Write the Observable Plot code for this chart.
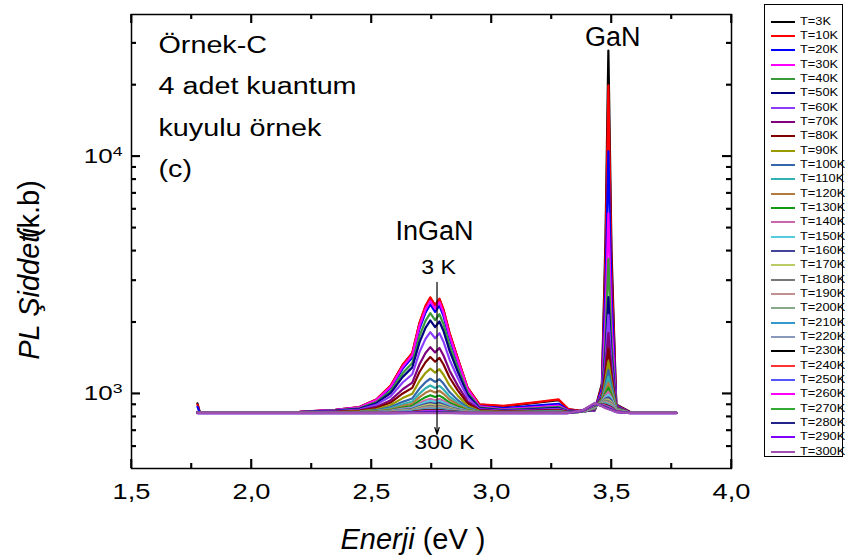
<!DOCTYPE html>
<html><head><meta charset="utf-8">
<script src="https://cdn.jsdelivr.net/npm/d3@7"></script>
<script src="https://cdn.jsdelivr.net/npm/@observablehq/plot@0.6"></script>
<style>
html,body{margin:0;padding:0;background:#fff;}
#wrap{position:relative;width:845px;height:559px;font-family:"Liberation Sans",Arial,sans-serif;}
#wrap svg{position:absolute;left:0;top:0;}
#legend{position:absolute;left:764px;top:4px;width:79px;height:453px;border:1px solid #000;box-sizing:border-box;background:#fff;}
.sw{position:absolute;left:6px;width:24px;height:0;}
.lt{position:absolute;left:35px;font-size:10px;line-height:10px;transform:scaleX(1.28);transform-origin:left center;white-space:nowrap;color:#000;}
</style></head><body><div id="wrap"><div id="legend"></div></div><script>
const temps = [3,10,20,30,40,50,60,70,80,90,100,110,120,130,140,150,160,170,180,190,200,210,220,230,240,250,260,270,280,290,300];
const energy = [1.775,1.785,2.0,2.2,2.35,2.45,2.52,2.58,2.63,2.67,2.70,2.725,2.745,2.765,2.783,2.80,2.825,2.86,2.90,2.95,3.05,3.18,3.28,3.32,3.38,3.43,3.46,3.475,3.487,3.50,3.52,3.58,3.77];
const intensity = [
[910,832,830,838,855,878,945,1080,1320,1480,1980,2330,2530,2350,2500,2250,1800,1400,1060,900,885,915,940,860,845,850,1100,4500,27900,4000,900,835,830],
[900,832,830,838,855,878,946,1082,1325,1486,1992,2345,2547,2365,2517,2264,1810,1406,1062,902,888,919,946,862,845,850,1080,3800,19900,3400,895,835,830],
[880,832,830,837,853,874,935,1058,1276,1422,1877,2195,2377,2213,2350,2122,1713,1349,1039,887,869,890,907,851,843,850,1050,2800,10500,2600,890,834,830],
[840,831,830,838,854,876,940,1070,1299,1453,1932,2267,2459,2286,2430,2190,1759,1376,1050,885,860,877,891,847,842,852,1020,2100,5750,2000,885,834,830],
[838,831,830,836,850,868,922,1029,1221,1348,1747,2026,2185,2041,2161,1962,1603,1284,1013,875,855,868,880,844,842,855,1000,1700,3700,1650,880,833,830],
[836,831,830,836,848,864,912,1007,1177,1291,1645,1894,2035,1908,2014,1837,1518,1234,993,869,850,861,871,841,841,858,990,1500,2550,1450,878,833,830],
[835,831,830,835,845,858,897,975,1115,1208,1498,1702,1818,1713,1800,1655,1394,1161,964,862,847,856,863,839,840,860,980,1400,2150,1350,875,832,830],
[834,831,830,833,841,851,880,939,1044,1113,1331,1484,1571,1493,1558,1449,1253,1079,930,855,843,850,856,837,840,862,970,1300,1800,1250,872,832,830],
[834,831,830,833,839,847,870,918,1002,1058,1234,1357,1427,1364,1416,1328,1170,1030,911,850,840,846,851,836,840,864,960,1220,1550,1180,870,832,830],
[833,831,830,832,837,843,860,896,958,1000,1131,1223,1275,1228,1268,1202,1084,979,890,845,838,843,847,835,840,866,950,1150,1370,1120,868,831,830],
[833,831,830,832,835,839,852,878,924,955,1051,1118,1156,1122,1151,1103,1016,939,874,841,837,840,843,834,840,868,945,1100,1260,1080,866,831,830],
[832,830,830,831,834,837,847,867,903,927,1001,1054,1083,1056,1079,1042,975,915,864,839,835,838,840,833,840,870,940,1060,1180,1040,864,831,830],
[832,830,830,831,833,836,844,860,888,907,967,1009,1032,1011,1029,999,945,898,857,837,834,836,838,832,840,872,935,1030,1110,1010,862,831,830],
[832,830,830,831,832,834,840,853,875,889,935,967,985,968,982,959,918,882,851,835,833,834,836,832,840,874,930,1005,1060,985,860,830,830],
[831,830,830,831,832,833,838,848,865,877,913,938,952,939,950,932,900,871,847,834,832,833,834,831,840,876,925,985,1020,965,858,830,830],
[831,830,830,830,832,833,837,845,860,870,900,922,934,923,932,917,889,865,844,833,832,833,833,831,840,878,920,968,990,950,856,830,830],
[831,830,830,830,831,832,836,843,855,863,888,905,915,906,914,901,879,859,842,832,831,832,832,831,840,880,915,955,965,935,854,830,830],
[831,830,830,830,831,832,835,841,851,857,878,893,901,894,900,890,871,854,840,832,831,831,831,830,840,882,912,945,945,922,852,830,830],
[830,830,830,830,831,831,834,839,847,853,870,883,890,883,888,880,864,850,838,831,830,831,831,830,840,884,910,935,930,912,850,830,830],
[830,830,830,830,830,831,833,837,844,849,863,874,879,874,878,871,858,847,837,831,830,830,830,830,841,886,908,925,918,902,848,830,830],
[830,830,830,830,830,831,833,836,842,846,858,866,871,866,870,864,853,844,836,831,830,830,830,830,842,888,906,918,908,895,846,830,830],
[830,830,830,830,830,830,832,835,840,844,854,862,866,862,865,860,850,842,835,830,830,830,830,830,843,890,904,910,900,888,845,830,830],
[830,830,830,830,830,830,832,834,838,841,850,856,859,856,858,854,846,840,834,830,830,830,830,830,844,892,902,904,893,882,844,830,830],
[830,830,830,830,830,830,831,833,837,839,846,850,853,851,853,849,843,838,833,830,830,830,830,830,845,894,900,898,887,877,843,830,830],
[830,830,830,830,830,830,831,832,835,837,842,846,848,846,848,845,840,836,832,830,830,830,830,830,846,896,898,893,882,872,842,830,830],
[830,830,830,830,830,830,830,831,834,835,839,842,844,842,844,842,838,835,831,830,830,830,830,830,847,898,896,888,878,868,841,830,830],
[830,830,830,830,830,830,830,831,833,834,837,840,841,840,841,839,836,834,831,830,830,830,830,830,848,900,894,884,874,864,840,830,830],
[830,830,830,830,830,830,830,830,831,832,835,836,837,836,837,836,834,832,830,830,830,830,830,830,849,903,892,880,870,860,839,830,830],
[829,829,829,829,829,829,829,829,830,831,833,834,834,834,834,833,832,830,829,829,829,829,829,829,850,906,890,876,867,857,838,829,829],
[829,829,829,829,829,829,829,829,829,830,832,832,832,832,832,831,830,829,829,829,829,829,829,829,851,910,888,872,864,854,837,829,829],
[829,829,829,829,829,829,829,829,829,829,829,829,829,829,829,829,829,829,829,829,829,829,829,829,852,915,886,868,860,851,836,829,829]
];
const colors = ["#000000","#ff0000","#0000ff","#ff00ff","#3a9a3a","#000080","#8b3dff","#800080","#800000","#999900","#3366aa","#33b0b0","#b07a40","#119911","#cc66aa","#55ccdd","#444499","#bbcc66","#777777","#c09090","#88aa88","#3399cc","#8899bb","#000000","#ff3333","#5555ff","#ff00ff","#33aa33","#222288","#8000ff","#a050b0"];
const xMajor = [1.5,2.0,2.5,3.0,3.5,4.0];
const xMinor = [1.75,2.25,2.75,3.25,3.75];
const yMajor = [1000,10000];
const yMinor = [600,700,800,900,2000,3000,4000,5000,6000,7000,8000,9000,20000,30000];
const cornerLines = ["Örnek-C","4 adet kuantum","kuyulu örnek","(c)"];
const bigLabels = [{t:"GaN", e:3.505, v:31800},{t:"InGaN", e:2.7625, v:4808}];
const smallLabels = [{t:"3 K", e:2.779, v:3396},{t:"300 K", e:2.804, v:622}];
const tempArrow = [{e:2.773, from:2945, to:674}];

const rows = temps.flatMap((T,i) => energy.map((e,j) => ({T, e, v: intensity[i][j], c: colors[i]})));
const ff = '"Liberation Sans", Arial, sans-serif';
const W = 845, H = 559, mL = 131, mR = 114, mT = 14, mB = 91;
const pw = W - mL - mR, ph = H - mT - mB;
const tstyle = {stroke: "black", strokeWidth: 1.6};
const chart = Plot.plot({
  width: W, height: H,
  marginLeft: mL, marginRight: mR, marginTop: mT, marginBottom: mB,
  style: {fontFamily: ff, background: "white", color: "black", overflow: "visible"},
  x: {domain: [1.5, 4.0]},
  y: {type: "log", domain: [484, 39600]},
  color: {type: "identity"},
  marks: [
    Plot.line(rows, {x: "e", y: "v", z: "T", stroke: "c", strokeWidth: 2.2}),
    Plot.frame({stroke: "black", strokeWidth: 1.5}),
    Plot.tickX(xMajor, {x: d => d, insetTop: ph - 9, ...tstyle}),
    Plot.tickX(xMinor, {x: d => d, insetTop: ph - 5, ...tstyle}),
    Plot.tickX(xMajor, {x: d => d, insetBottom: ph - 9, ...tstyle}),
    Plot.tickX(xMinor, {x: d => d, insetBottom: ph - 5, ...tstyle}),
    Plot.tickY(yMajor, {y: d => d, insetRight: pw - 9, ...tstyle}),
    Plot.tickY(yMinor, {y: d => d, insetRight: pw - 5, ...tstyle}),
    Plot.tickY(yMajor, {y: d => d, insetLeft: pw - 9, ...tstyle}),
    Plot.tickY(yMinor, {y: d => d, insetLeft: pw - 5, ...tstyle}),
    Plot.axisX(xMajor, {tickSize: 0, tickPadding: 15, fontSize: 22, tickFormat: d => d.toFixed(1).replace(".", ","), label: null}),
    Plot.axisY(yMajor, {tickSize: 0, tickPadding: 9, fontSize: 20, tickFormat: d => "10^" + Math.round(Math.log10(d)), label: null}),
    Plot.text([cornerLines.join("\n")], {frameAnchor: "top-left", dx: 27, dy: 9, lineAnchor: "top", lineHeight: 1.8, fontSize: 23, textAnchor: "start", fill: "black"}),
    Plot.text(bigLabels, {x: "e", y: "v", text: "t", fontSize: 27, fill: "black"}),
    Plot.text(smallLabels, {x: "e", y: "v", text: "t", fontSize: 21, fill: "black"}),
    Plot.arrow(tempArrow, {x1: "e", x2: "e", y1: "from", y2: "to", stroke: "black", strokeWidth: 1.2, headLength: 9, headAngle: 35})
  ]
});
const wrap = document.getElementById("wrap");
wrap.insertBefore(chart, wrap.firstChild);

function stretch(el, k) {
  const t = el.getAttribute("transform") || "";
  el.setAttribute("transform", t + ` scale(${k},1)`);
}
chart.querySelectorAll('g[aria-label="x-axis tick label"] text').forEach(t => { if (t.textContent) stretch(t, 1.24); });
chart.querySelectorAll('g[aria-label="y-axis tick label"] text').forEach(t => {
  const s = t.textContent;
  if (!s.includes("^")) return;
  const [b, p] = s.split("^");
  t.textContent = "";
  const t1 = document.createElementNS("http://www.w3.org/2000/svg", "tspan");
  t1.textContent = b;
  const t2 = document.createElementNS("http://www.w3.org/2000/svg", "tspan");
  t2.textContent = p; t2.setAttribute("dy", "-0.5em"); t2.setAttribute("font-size", "0.68em");
  t.appendChild(t1); t.appendChild(t2);
  stretch(t, 1.3);
});
chart.querySelectorAll('text').forEach(t => {
  const s = t.textContent;
  if (s.startsWith("Örnek")) stretch(t, 1.25);
  else if (s === "3 K" || s === "300 K") stretch(t, 1.1);
});

const svg = d3.select(chart);
// inward frame ticks, positioned through Plot's own scales
const sx = chart.scale("x"), sy = chart.scale("y");
const x0 = mL, x1 = W - mR, y0 = mT, y1 = H - mB;
const tg = svg.append("g").attr("stroke", "black").attr("stroke-width", 1.6).attr("fill", "none");
const seg = (ax, ay, bx, by) => tg.append("line").attr("x1", ax).attr("y1", ay).attr("x2", bx).attr("y2", by);
[[xMajor, 9], [xMinor, 5]].forEach(([vals, len]) => vals.forEach(v => {
  const px = sx.apply(v);
  seg(px, y1, px, y1 - len); seg(px, y0, px, y0 + len);
}));
[[yMajor, 9], [yMinor, 5]].forEach(([vals, len]) => vals.forEach(v => {
  const py = sy.apply(v);
  seg(x0, py, x0 + len, py); seg(x1, py, x1 - len, py);
}));

const xt = svg.append("text").attr("x", 413).attr("y", 549).attr("text-anchor", "middle")
  .attr("font-size", 29).attr("font-family", ff).attr("fill", "black");
xt.append("tspan").attr("font-style", "italic").text("Enerji");
xt.append("tspan").text(" (eV )");
const yt = svg.append("text").attr("transform", "translate(39,270) rotate(-90)").attr("text-anchor", "middle")
  .attr("font-size", 29).attr("font-family", ff).attr("fill", "black");
yt.append("tspan").attr("font-style", "italic").text("PL Şiddeti");
yt.append("tspan").attr("dx", -10).text("(k.b)");

const legend = document.getElementById("legend");
temps.forEach((T, i) => {
  const cy = 16.7 + 14.33 * i;
  const sw = document.createElement("div");
  sw.className = "sw"; sw.style.top = (cy - 1) + "px"; sw.style.borderTop = "2px solid " + colors[i];
  const lt = document.createElement("div");
  lt.className = "lt"; lt.style.top = (cy - 5) + "px"; lt.textContent = "T=" + T + "K";
  legend.appendChild(sw); legend.appendChild(lt);
});
</script></body></html>
